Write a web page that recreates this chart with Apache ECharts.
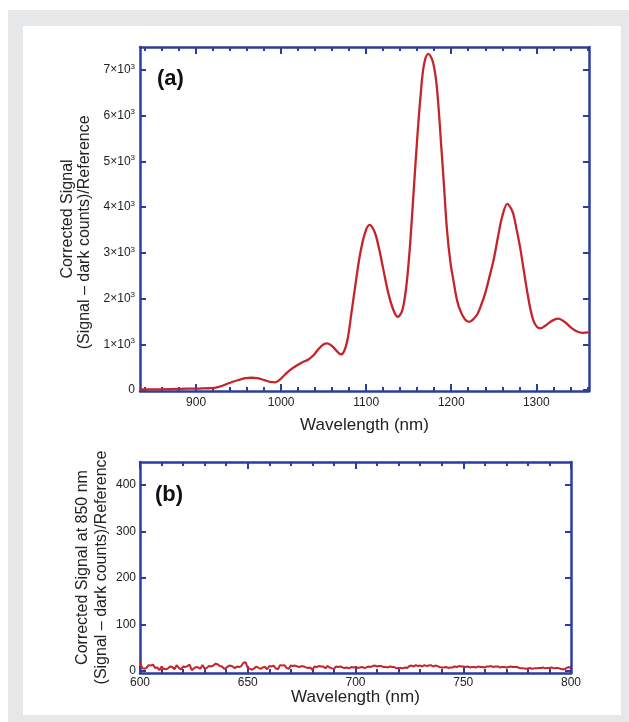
<!DOCTYPE html>
<html>
<head>
<meta charset="utf-8">
<script src="https://cdn.jsdelivr.net/npm/echarts@6/dist/echarts.min.js"></script>
<style>
  body { margin: 0; background: #fff; }
  #bg { position: absolute; left: 8px; top: 10px; width: 621px; height: 712px; background: #e6e7e9; }
  #panel { position: absolute; left: 23px; top: 26px; width: 598px; height: 689px; background: #fff; }
  #main { position: absolute; left: 0; top: 0; width: 629px; height: 722px; }
</style>
</head>
<body>
<div id="bg"></div>
<div id="panel"></div>
<div id="main"></div>
<script>
// (a) spectrum, wavelength in nm and corrected signal
const wavelengthA = [834, 850, 870, 890, 905, 915, 922, 930, 940, 950, 958, 965, 972, 980, 987, 993, 998,
  1004, 1010, 1016, 1024, 1032, 1038, 1044, 1050, 1054, 1060, 1066, 1070, 1074, 1078, 1082, 1087, 1093, 1099,
  1104, 1110, 1115, 1120, 1126, 1132, 1137, 1142, 1146, 1149, 1152, 1156, 1160, 1164, 1168, 1173, 1178, 1182,
  1185, 1188, 1191, 1195, 1199, 1203, 1207, 1211, 1216, 1221, 1226, 1231, 1236, 1240, 1245, 1250, 1255, 1260,
  1266, 1270, 1273, 1277, 1281, 1285, 1289, 1293, 1297, 1301, 1305, 1310, 1315, 1320, 1326, 1331, 1336, 1342,
  1348, 1354, 1362];
const signalA = [15, 15, 20, 30, 35, 40, 50, 90, 160, 220, 260, 270, 260, 220, 180, 170, 220,
  330, 430, 510, 600, 670, 760, 900, 1000, 1020, 960, 840, 780, 850, 1100, 1600, 2260, 2990, 3460,
  3610, 3450, 3100, 2650, 2120, 1750, 1600, 1720, 2100, 2600, 3280, 4400, 5500, 6450, 7120, 7350, 7200, 6800,
  6200, 5400, 4600, 3500, 2800, 2350, 1950, 1720, 1550, 1490, 1550, 1670, 1900, 2120, 2480, 2860, 3350, 3800,
  4070, 3980, 3850, 3500, 3120, 2650, 2190, 1780, 1500, 1380, 1350, 1400, 1470, 1530, 1560, 1520, 1450, 1350,
  1280, 1250, 1260];

// (b) signal at 850 nm, 600..800 nm in 1 nm steps
const wavelengthB = Array.from({ length: 201 }, (_, i) => 600 + i);
const signalB = [18, 6, 4, 6, 12, 11, 13, 6, 7, 1, 9, 4, 3, 5, 9, 8, 3, 12, 6, 3,
  9, 8, 10, 13, 1, 5, 8, 7, 4, 12, 4, 6, 10, 9, 11, 15, 14, 10, 9, 4,
  6, 10, 11, 9, 5, 9, 8, 10, 17, 18, 6, 4, 2, 5, 9, 6, 4, 7, 8, 3,
  10, 9, 11, 5, 3, 12, 11, 12, 6, 4, 11, 10, 11, 9, 8, 10, 9, 7, 6, 7,
  2, 9, 8, 10, 9, 9, 5, 10, 7, 5, 4, 9, 8, 9, 7, 6, 7, 5, 8, 7,
  8, 6, 7, 8, 6, 7, 9, 8, 10, 11, 9, 10, 10, 8, 8, 7, 9, 8, 8, 5,
  6, 6, 5, 7, 6, 10, 11, 9, 12, 10, 11, 9, 12, 10, 11, 12, 9, 11, 10, 8,
  7, 7, 8, 6, 7, 7, 9, 8, 10, 9, 9, 8, 9, 7, 8, 8, 7, 9, 8, 8,
  7, 9, 9, 10, 8, 9, 9, 7, 8, 8, 7, 8, 9, 8, 8, 8, 6, 5, 5, 4,
  5, 6, 4, 5, 5, 6, 6, 7, 5, 6, 6, 7, 5, 6, 6, 4, 3, 3, 6, 8, 5];

// tick positions
const xMajorA = [900, 1000, 1100, 1200, 1300];
const xMinorA = [840, 860, 880, 920, 940, 960, 980, 1020, 1040, 1060, 1080, 1120, 1140, 1160, 1180,
  1220, 1240, 1260, 1280, 1320, 1340, 1360];
const yTicksA = [0, 1000, 2000, 3000, 4000, 5000, 6000, 7000];
const xMajorB = [600, 650, 700, 750, 800];
const xMinorB = [610, 620, 630, 640, 660, 670, 680, 690, 710, 720, 730, 740, 760, 770, 780, 790];
const yTicksB = [0, 100, 200, 300, 400];

const BLUE = '#2b3d9f';
const RED = '#c4242a';
const TXT = '#222';
const FONT = 'Liberation Sans, Arial, sans-serif';

function xAx(grid, pos, min, max, ticks, len, opts) {
  return Object.assign({
    type: 'value', gridIndex: grid, position: pos, min: min, max: max,
    axisLine: { show: len > 5, onZero: false, lineStyle: { color: BLUE, width: 2.5 } },
    axisTick: { show: true, inside: true, length: len, customValues: ticks, lineStyle: { color: BLUE, width: 2 } },
    axisLabel: { show: false },
    splitLine: { show: false }
  }, opts || {});
}

function yAx(grid, pos, min, max, ticks, opts) {
  return Object.assign({
    type: 'value', gridIndex: grid, position: pos, min: min, max: max,
    axisLine: { show: true, onZero: false, lineStyle: { color: BLUE, width: 2.5 } },
    axisTick: { show: true, inside: true, length: 6, customValues: ticks, lineStyle: { color: BLUE, width: 2 } },
    axisLabel: { show: false },
    splitLine: { show: false }
  }, opts || {});
}

const myChart = echarts.init(document.getElementById('main'));

const option = {
  animation: false,
  textStyle: { fontFamily: FONT },
  title: [
    { text: '(a)', left: 157, top: 68, padding: 0, textStyle: { fontSize: 22, fontWeight: 'bold', color: '#111', fontFamily: FONT } },
    { text: '(b)', left: 155, top: 484, padding: 0, textStyle: { fontSize: 22, fontWeight: 'bold', color: '#111', fontFamily: FONT } }
  ],
  grid: [
    { left: 140, top: 47, width: 449, height: 344, containLabel: false, outerBoundsMode: 'none' },
    { left: 140, top: 462, width: 431, height: 211, containLabel: false, outerBoundsMode: 'none' }
  ],
  xAxis: [
    xAx(0, 'bottom', 834, 1362, xMajorA, 7, {
      axisLabel: { show: true, customValues: xMajorA, margin: 6, fontSize: 12, color: TXT, formatter: v => String(v) },
      name: 'Wavelength (nm)', nameLocation: 'middle', nameGap: 26, nameMoveOverlap: false,
      nameTextStyle: { fontSize: 17, color: TXT }
    }),
    xAx(0, 'bottom', 834, 1362, xMinorA, 4),
    xAx(0, 'top', 834, 1362, xMajorA, 7),
    xAx(0, 'top', 834, 1362, xMinorA, 4),
    xAx(1, 'bottom', 600, 800, xMajorB, 7, {
      axisLabel: { show: true, customValues: xMajorB, margin: 4, fontSize: 12, color: TXT, formatter: v => String(v) },
      name: 'Wavelength (nm)', nameLocation: 'middle', nameGap: 16, nameMoveOverlap: false,
      nameTextStyle: { fontSize: 17, color: TXT }
    }),
    xAx(1, 'bottom', 600, 800, xMinorB, 4),
    xAx(1, 'top', 600, 800, xMajorB, 7),
    xAx(1, 'top', 600, 800, xMinorB, 4)
  ],
  yAxis: [
    yAx(0, 'left', -20, 7500, yTicksA, {
      axisLabel: {
        show: true, customValues: yTicksA, margin: 5, color: TXT,
        formatter: v => v === 0 ? '{b|0}' : '{b|' + (v / 1000) + '×10}{s|3}',
        rich: {
          b: { fontSize: 12, color: TXT, lineHeight: 15 },
          s: { fontSize: 8, color: TXT, verticalAlign: 'top', lineHeight: 15 }
        }
      },
      name: 'Corrected Signal\n(Signal – dark counts)/Reference      ',
      nameLocation: 'middle', nameGap: 47, nameMoveOverlap: false,
      nameTextStyle: { fontSize: 16, color: TXT, lineHeight: 17 }
    }),
    yAx(0, 'right', -20, 7500, yTicksA),
    yAx(1, 'left', -5, 450, yTicksB, {
      axisLabel: { show: true, customValues: yTicksB, margin: 4, fontSize: 12, color: TXT },
      name: 'Corrected Signal at 850 nm\n(Signal – dark counts)/Reference',
      nameLocation: 'middle', nameGap: 29, nameMoveOverlap: false,
      nameTextStyle: { fontSize: 16, color: TXT, lineHeight: 19 }
    }),
    yAx(1, 'right', -5, 450, yTicksB)
  ],
  series: [
    {
      type: 'line', xAxisIndex: 0, yAxisIndex: 0, showSymbol: false, smooth: 0.35,
      lineStyle: { color: RED, width: 2.3 },
      data: wavelengthA.map((w, i) => [w, signalA[i]])
    },
    {
      type: 'line', xAxisIndex: 4, yAxisIndex: 2, showSymbol: false,
      lineStyle: { color: RED, width: 2 },
      data: wavelengthB.map((w, i) => [w, signalB[i]])
    }
  ]
};

myChart.setOption(option);
</script>
</body>
</html>
